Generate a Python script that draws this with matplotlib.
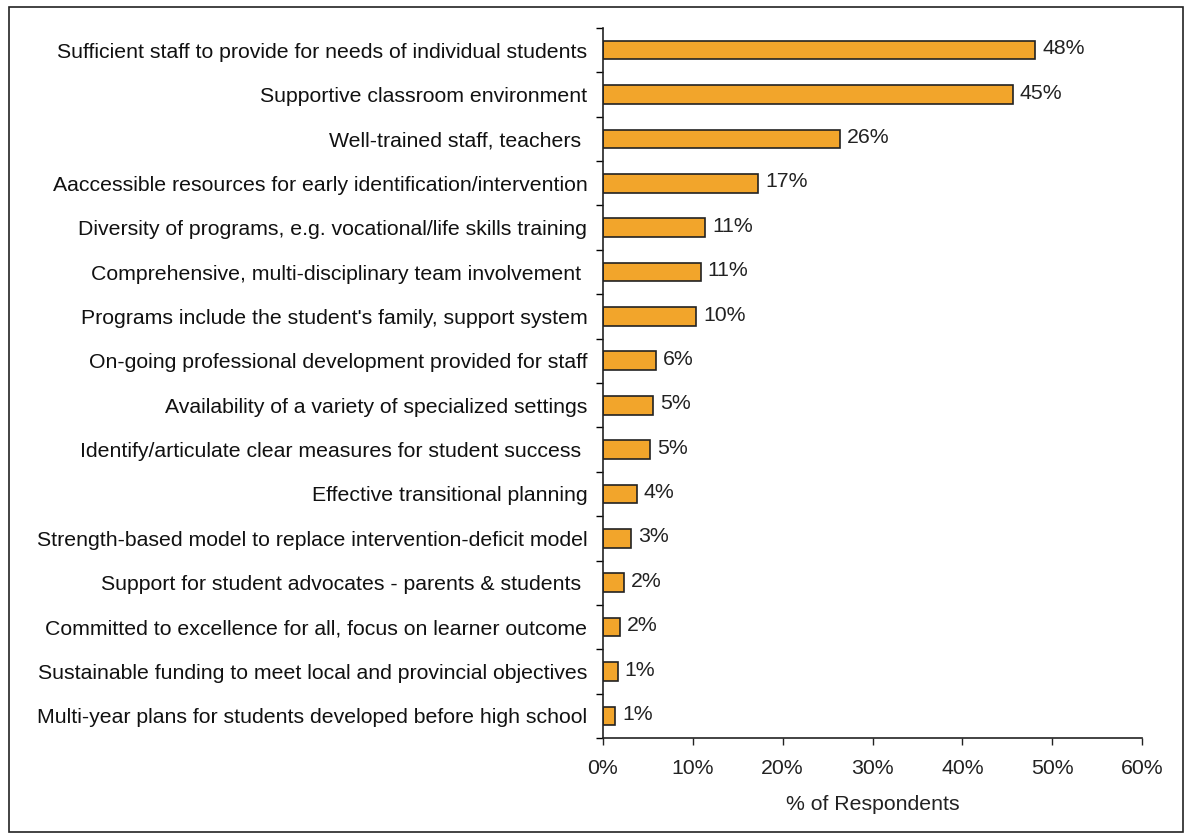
import numpy as np
import matplotlib.pyplot as plt
from matplotlib.patches import Rectangle
from matplotlib.ticker import FixedLocator, FuncFormatter

plt.rcParams['font.family'] = ['Liberation Sans', 'DejaVu Sans']

# categories, top to bottom
categories = [
    "Sufficient staff to provide for needs of individual students",
    "Supportive classroom environment",
    "Well-trained staff, teachers ",
    "Aaccessible resources for early identification/intervention",
    "Diversity of programs, e.g. vocational/life skills training",
    "Comprehensive, multi-disciplinary team involvement ",
    "Programs include the student's family, support system",
    "On-going professional development provided for staff",
    "Availability of a variety of specialized settings",
    "Identify/articulate clear measures for student success ",
    "Effective transitional planning",
    "Strength-based model to replace intervention-deficit model",
    "Support for student advocates - parents & students ",
    "Committed to excellence for all, focus on learner outcome",
    "Sustainable funding to meet local and provincial objectives",
    "Multi-year plans for students developed before high school",
]
values = [48.1, 45.6, 26.4, 17.3, 11.4, 10.9, 10.4, 5.9, 5.6, 5.3, 3.8, 3.2, 2.4, 1.9, 1.7, 1.4]
value_labels = ["48%", "45%", "26%", "17%", "11%", "11%", "10%", "6%", "5%", "5%",
                "4%", "3%", "2%", "2%", "1%", "1%"]
xticks = [0, 10, 20, 30, 40, 50, 60]

fs = 15.3
fig = plt.figure(figsize=(11.91, 8.38), dpi=100)
ax = fig.add_axes([0.506, 0.1193, 0.4532, 0.8473])

y = np.arange(len(categories))
ax.barh(y, values, height=0.42, color="#F2A52B", edgecolor="#222222", linewidth=1.2)
for yi, v, lab in zip(y, values, value_labels):
    ax.text(v + 0.75, yi - 0.03, lab, va="center", ha="left", fontsize=fs, color="#222222")

ax.set_ylim(len(categories) - 0.5, -0.5)
ax.set_xlim(0, 60)
ax.set_yticks(y)
ax.set_yticklabels(categories, fontsize=fs, color="#111111")
ax.tick_params(axis="y", which="major", length=0, pad=11)
ax.yaxis.set_minor_locator(FixedLocator(np.arange(-0.5, len(categories), 1.0)))
ax.tick_params(axis="y", which="minor", length=5, width=1, direction="out")

ax.set_xticks(xticks)
ax.xaxis.set_major_formatter(FuncFormatter(lambda v, p: f"{v:.0f}%"))
ax.tick_params(axis="x", length=5, width=1, labelsize=fs, pad=10, colors="#222222")
ax.set_xlabel("% of Respondents", fontsize=fs, labelpad=12, color="#222222")

for s in ["top", "right"]:
    ax.spines[s].set_visible(False)
for s in ["left", "bottom"]:
    ax.spines[s].set_linewidth(1.2)
    ax.spines[s].set_color("#222222")

# outer frame around the whole chart
fig.patches.append(Rectangle((9 / 1191, 6 / 838), 1174 / 1191, 825 / 838,
                             transform=fig.transFigure, fill=False,
                             edgecolor="#222222", linewidth=1.2))

fig.savefig("out.png", dpi=100)
